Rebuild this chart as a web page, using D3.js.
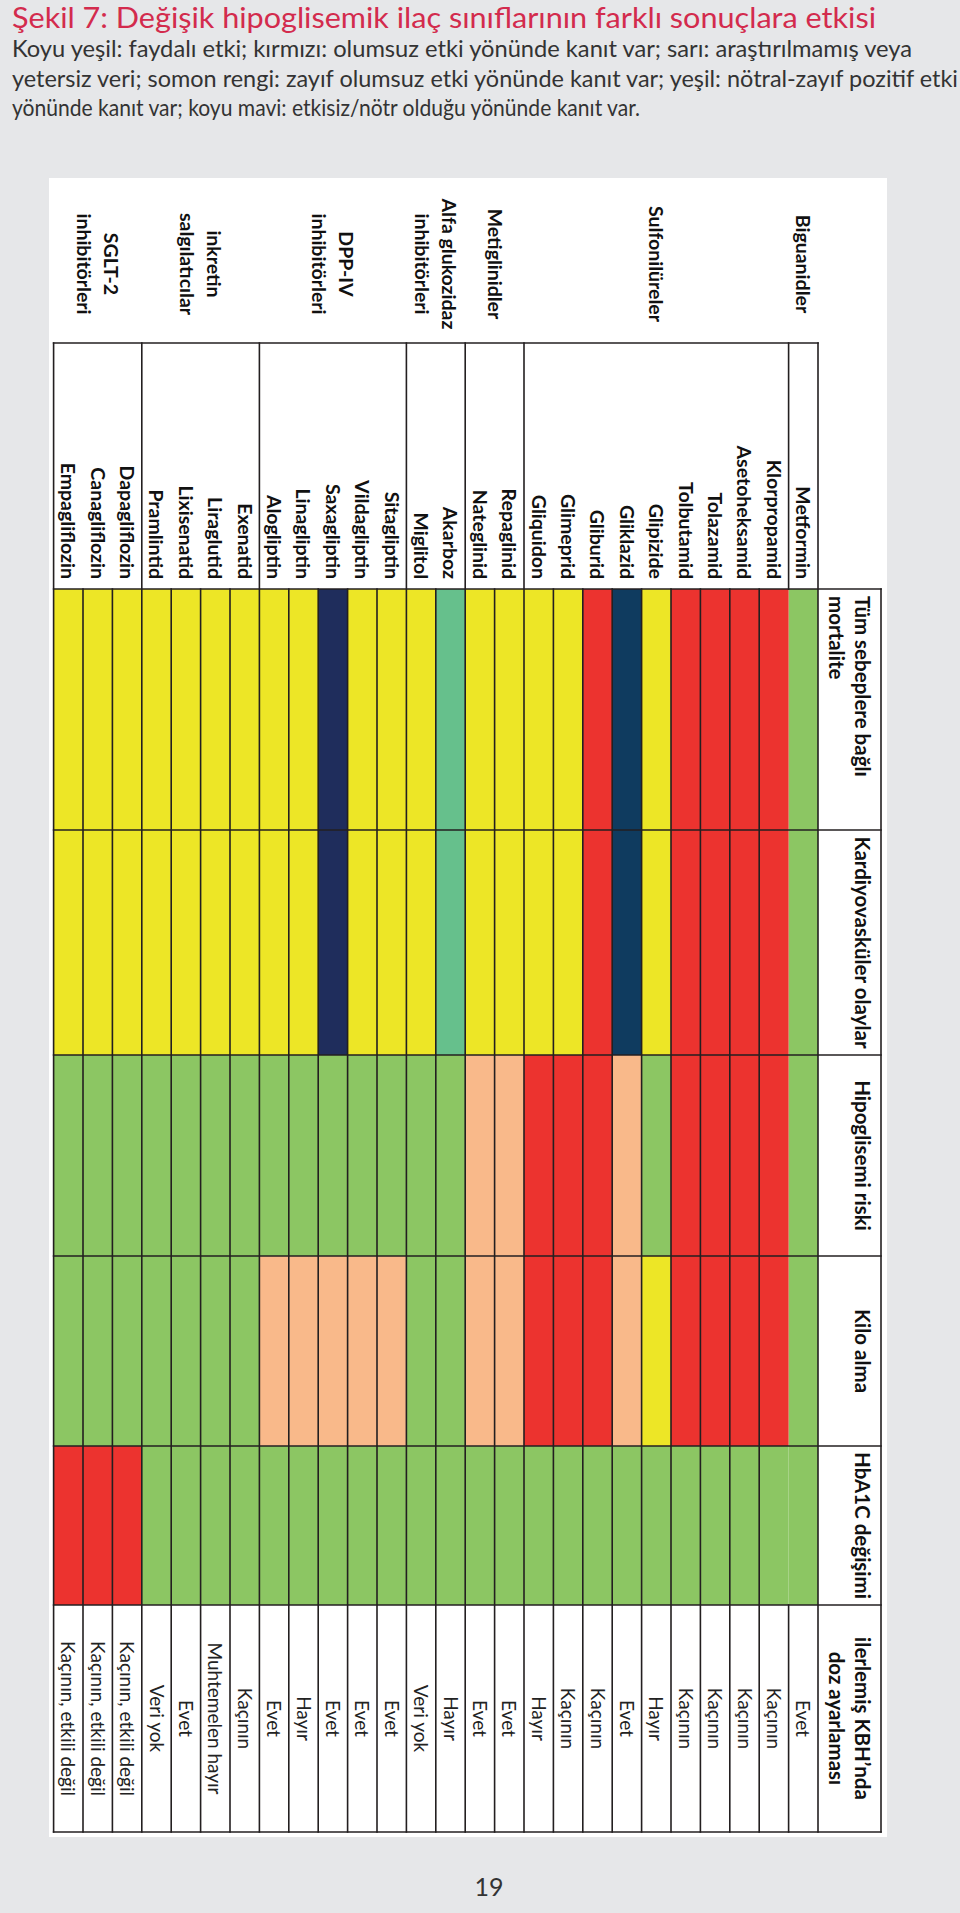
<!DOCTYPE html>
<html><head><meta charset="utf-8">
<script src="https://cdn.jsdelivr.net/npm/d3@7"></script>
<style>
html,body{margin:0;padding:0;background:#e6e7e9;}
svg{display:block;}
</style></head>
<body>
<svg id="chart" width="960" height="1913"></svg>
<script>
// ---------- DATA ----------
const titleText = "Şekil 7: Değişik hipoglisemik ilaç sınıflarının farklı sonuçlara etkisi";
const subtitleLines = [
  "Koyu yeşil: faydalı etki; kırmızı: olumsuz etki yönünde kanıt var; sarı: araştırılmamış veya",
  "yetersiz veri; somon rengi: zayıf olumsuz etki yönünde kanıt var; yeşil: nötral-zayıf pozitif etki",
  "yönünde kanıt var; koyu mavi: etkisiz/nötr olduğu yönünde kanıt var."
];
const pageNumber = "19";

const groups = [
  ["Biguanidler"],
  ["Sulfonilüreler"],
  ["Metiglinidler"],
  ["Alfa glukozidaz", "inhibitörleri"],
  ["DPP-IV", "inhibitörleri"],
  ["inkretin", "salgılatıcılar"],
  ["SGLT-2", "inhibitörleri"]
];
const drugs = ["Metformin","Klorpropamid","Asetoheksamid","Tolazamid","Tolbutamid","Glipizide",
  "Gliklazid","Gliburid","Glimeprid","Gliquidon","Repaglinid","Nateglinid","Akarboz","Miglitol",
  "Sitagliptin","Vildagliptin","Saxagliptin","Linagliptin","Alogliptin","Exenatid","Liraglutid",
  "Lixisenatid","Pramlintid","Dapagliflozin","Canagliflozin","Empagliflozin"];
const drugGroup = [0,1,1,1,1,1,1,1,1,1,2,2,3,3,4,4,4,4,4,5,5,5,5,6,6,6];

const outcomes = [
  ["Tüm sebeplere bağlı", "mortalite"],
  ["Kardiyovasküler olaylar"],
  ["Hipoglisemi  riski"],
  ["Kilo alma"],
  ["HbA1C değişimi"],
  ["ilerlemiş KBH’nda", "doz ayarlaması"]
];
// codes: G yeşil, T koyu yeşil, R kırmızı, Y sarı, S somon, M/N koyu mavi
const mortalite     = ["G","R","R","R","R","Y","M","R","Y","Y","Y","Y","T","Y","Y","Y","N","Y","Y","Y","Y","Y","Y","Y","Y","Y"];
const kardiyovaskul = ["G","R","R","R","R","Y","M","R","Y","Y","Y","Y","T","Y","Y","Y","N","Y","Y","Y","Y","Y","Y","Y","Y","Y"];
const hipoglisemi   = ["G","R","R","R","R","G","S","R","R","R","S","S","G","G","G","G","G","G","G","G","G","G","G","G","G","G"];
const kiloAlma      = ["G","R","R","R","R","Y","S","R","R","R","S","S","G","G","S","S","S","S","S","G","G","G","G","G","G","G"];
const hba1c         = ["G","G","G","G","G","G","G","G","G","G","G","G","G","G","G","G","G","G","G","G","G","G","G","R","R","R"];
const kbhDoz = ["Evet","Kaçının","Kaçının","Kaçının","Kaçının","Hayır","Evet","Kaçının","Kaçının","Hayır",
  "Evet","Evet","Hayır","Veri yok","Evet","Evet","Evet","Hayır","Evet","Kaçının","Muhtemelen hayır",
  "Evet","Veri yok","Kaçının, etkili değil","Kaçının, etkili değil","Kaçının, etkili değil"];

const colorCodes = ["G","T","R","Y","S","M","N"];

// ---------- STYLE / LAYOUT ----------
const colorRange = ["#8cc663","#66c08c","#ec332f","#ede626","#f9b98a","#0f3b5f","#1f2d5c"];
const FONT = "Lato, 'Open Sans', sans-serif";
const LINE = "#231f20";

const svg = d3.select("#chart");
svg.append("rect").attr("width",960).attr("height",1913).attr("fill","#e6e7e9");

// title and subtitle
svg.append("text").attr("x",12).attr("y",28)
  .attr("font-family",FONT).attr("font-size",28).attr("fill","#d32b4d")
  .attr("textLength",864).attr("lengthAdjust","spacingAndGlyphs")
  .text(titleText);
const subW = [900, 946, 628];
svg.selectAll("text.sub").data(subtitleLines).join("text").attr("class","sub")
  .attr("x",12).attr("y",(d,i)=>57+i*29.5)
  .attr("font-family",FONT).attr("font-size",23).attr("fill","#333")
  .attr("textLength",(d,i)=>subW[i]).attr("lengthAdjust","spacingAndGlyphs")
  .text(d=>d);

// white panel
svg.append("rect").attr("x",49).attr("y",178).attr("width",838).attr("height",1659).attr("fill","#fff");

// page number
svg.append("text").attr("x",489).attr("y",1896).attr("text-anchor","middle")
  .attr("font-family",FONT).attr("font-size",25).attr("fill","#333").text(pageNumber);

// ---------- TABLE (drawn upright, rotated 90° clockwise) ----------
const g = svg.append("g").attr("transform","translate(881,178) rotate(90)");

const headerH = 63, rowH = 29.4;
const groupColW = 165, drugColW = 246;
const dataColW = [241, 225, 201, 190, 159, 227];
const x0 = groupColW + drugColW;
const colEdges = [x0];
dataColW.forEach(w => colEdges.push(colEdges[colEdges.length-1] + w));
const xEnd = colEdges[colEdges.length-1];

const y = d3.scaleBand().domain(drugs).range([headerH, headerH + rowH*drugs.length]).padding(0);
const yEnd = headerH + rowH*drugs.length;
const xCol = d3.scaleOrdinal().domain(d3.range(outcomes.length)).range(colEdges.slice(0,-1));
const color = d3.scaleOrdinal().domain(colorCodes).range(colorRange);

const colored = [mortalite, kardiyovaskul, hipoglisemi, kiloAlma, hba1c];
colored.forEach((vals, ci) => {
  g.append("g").selectAll("rect").data(vals).join("rect")
    .attr("x", xCol(ci)).attr("width", dataColW[ci])
    .attr("y", (d,i)=>y(drugs[i])).attr("height", y.bandwidth())
    .attr("fill", d=>color(d));
});

// KBH text
const kbhCol = outcomes.length - 1;
g.append("g").selectAll("text").data(kbhDoz).join("text")
  .attr("x", xCol(kbhCol) + dataColW[kbhCol]/2)
  .attr("y", (d,i)=>y(drugs[i]) + y.bandwidth()/2)
  .attr("dy","0.36em").attr("text-anchor","middle")
  .attr("font-family",FONT).attr("font-size",19).attr("fill","#222")
  .text(d=>d);

// drug names
g.append("g").selectAll("text").data(drugs).join("text")
  .attr("x", x0 - 10)
  .attr("y", d=>y(d) + y.bandwidth()/2)
  .attr("dy","0.36em").attr("text-anchor","end")
  .attr("font-family",FONT).attr("font-weight",700).attr("font-size",19.5).attr("fill","#111")
  .text(d=>d);

// group labels
const groupSpans = groups.map((lbl, gi) => {
  const members = drugs.filter((d,i)=>drugGroup[i]===gi);
  return {lbl, top: y(members[0]), bottom: y(members[members.length-1]) + y.bandwidth()};
});
const gl = g.append("g").selectAll("text").data(groupSpans).join("text")
  .attr("text-anchor","middle")
  .attr("font-family",FONT).attr("font-weight",700).attr("font-size",19.5).attr("fill","#111");
gl.each(function(d){
  const n = d.lbl.length, lh = 27;
  const c = (d.top + d.bottom)/2;
  d3.select(this).selectAll("tspan").data(d.lbl).join("tspan")
    .attr("x", 86)
    .attr("y", (t,i)=> c - (n-1)*lh/2 + i*lh)
    .attr("dy","0.36em")
    .text(t=>t);
});

// headers
const hd = g.append("g").selectAll("text").data(outcomes).join("text")
  .attr("font-family",FONT).attr("font-weight",700).attr("font-size",20.5).attr("fill","#111")
  .attr("text-anchor",(d,i)=> i===0 ? "start" : "middle");
hd.each(function(d, ci){
  const xx = ci===0 ? xCol(ci) + 7 : xCol(ci) + dataColW[ci]/2;
  d3.select(this).selectAll("tspan").data(d).join("tspan")
    .attr("x", xx).attr("y",(t,i)=> 19 + i*26).attr("dy","0.36em").text(t=>t);
});

// grid lines
const lines = [];
lines.push([x0, 0, xEnd, 0]);
lines.push([groupColW, headerH, xEnd, headerH]);
lines.push([groupColW, yEnd, xEnd, yEnd]);
lines.push([groupColW, headerH, groupColW, yEnd]);
colEdges.forEach(cx => lines.push([cx, 0, cx, yEnd]));
drugs.forEach((d,i) => {
  if (i === 0) return;
  const yy = y(d);
  if (drugGroup[i] !== drugGroup[i-1]) {
    if (i === 1) {
      lines.push([groupColW, yy, x0, yy]);
      lines.push([colEdges[kbhCol], yy, xEnd, yy]);
    } else {
      lines.push([groupColW, yy, xEnd, yy]);
    }
  } else {
    lines.push([x0, yy, xEnd, yy]);
  }
});
g.append("g").selectAll("line").data(lines).join("line")
  .attr("x1",d=>d[0]).attr("y1",d=>d[1]).attr("x2",d=>d[2]).attr("y2",d=>d[3])
  .attr("stroke",LINE).attr("stroke-width",1.6).attr("stroke-linecap","square");
</script>
</body></html>
